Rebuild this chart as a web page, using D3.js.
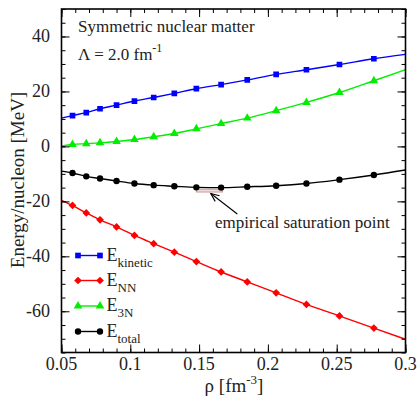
<!DOCTYPE html>
<html>
<head>
<meta charset="utf-8">
<script src="https://cdn.jsdelivr.net/npm/d3@7"></script>
<style>
  html, body { margin: 0; padding: 0; background: #fff; }
  svg { display: block; font-family: "Liberation Serif", "Times New Roman", "DejaVu Serif", serif; }
</style>
</head>
<body>
<svg id="chart" width="419" height="402"></svg>
<script>
// Density grid (fm^-3) where each energy contribution was evaluated
const rho = [0.058, 0.068, 0.078, 0.090, 0.103, 0.117, 0.132, 0.148, 0.166, 0.185, 0.206, 0.228, 0.252, 0.277];

// Energy per nucleon contributions (MeV)
const eKinetic = [11.2, 12.3, 13.7, 15.0, 16.5, 17.8, 19.3, 21.0, 22.5, 24.2, 26.2, 27.9, 29.8, 31.9];
const eNN      = [-21.5, -24.2, -26.7, -29.3, -32.4, -35.4, -38.5, -41.9, -45.7, -49.3, -53.3, -57.5, -61.7, -66.1];
const e3N      = [0.7, 1.0, 1.3, 1.8, 2.5, 3.5, 4.7, 6.4, 8.3, 10.3, 13.0, 16.0, 19.6, 23.9];
const eTotal   = [-9.7, -10.9, -11.7, -12.6, -13.5, -14.1, -14.5, -14.9, -15.0, -14.7, -14.3, -13.5, -12.1, -10.4];

// Curve values at the edges of the density range (rho = 0.05 and 0.3)
const rhoEnds = [0.05, 0.3];
const eKineticEnds = [10.3, 33.5];
const eNNEnds      = [-19.6, -70.2];
const e3NEnds      = [0.1, 27.9];
const eTotalEnds   = [-9.0, -8.6];

// Empirical saturation region
const satRho = [0.148, 0.167];
const satE   = [-15.6, -16.6];

// Axis ticks
const xTicks = [0.05, 0.1, 0.15, 0.2, 0.25, 0.3];
const xTickLabels = ["0.05", "0.1", "0.15", "0.2", "0.25", "0.3"];
const yTicks = [-60, -40, -20, 0, 20, 40];
const yTickLabels = ["-60", "-40", "-20", "0", "20", "40"];

const svg = d3.select("#chart");
const m = { left: 61.5, right: 405.5, top: 9, bottom: 352.5 };

const x = d3.scaleLinear().domain([0.05, 0.3]).range([m.left, m.right]);
const y = d3.scaleLinear().domain([-75, 50]).range([m.bottom, m.top]);

const series = [
  { name: "kinetic", vals: eKinetic, ends: eKineticEnds, color: "#0000ff", marker: "square" },
  { name: "NN",      vals: eNN,      ends: eNNEnds,      color: "#ff0000", marker: "diamond" },
  { name: "3N",      vals: e3N,      ends: e3NEnds,      color: "#00ee00", marker: "triangle" },
  { name: "total",   vals: eTotal,   ends: eTotalEnds,   color: "#000000", marker: "circle" }
];

// Diamonds are squares turned by 45 degrees
const symbols = {
  square:   d3.symbol().type(d3.symbolSquare).size(32),
  diamond:  d3.symbol().type(d3.symbolSquare).size(30),
  triangle: d3.symbol().type(d3.symbolTriangle).size(32),
  circle:   d3.symbol().type(d3.symbolCircle).size(32)
};

svg.append("defs").append("clipPath").attr("id", "plotclip")
  .append("rect").attr("x", m.left).attr("y", m.top)
  .attr("width", m.right - m.left).attr("height", m.bottom - m.top);

const plot = svg.append("g").attr("clip-path", "url(#plotclip)");

// Saturation box
plot.append("rect")
  .attr("x", x(satRho[0])).attr("y", y(satE[0]))
  .attr("width", x(satRho[1]) - x(satRho[0]))
  .attr("height", y(satE[1]) - y(satE[0]))
  .attr("fill", "#f2dcdc").attr("stroke", "#c89a9a").attr("stroke-width", 1);

const line = d3.line().x(d => x(d[0])).y(d => y(d[1])).curve(d3.curveMonotoneX);

function markerTransform(s, px, py) {
  return `translate(${px},${py})` + (s.marker === "diamond" ? " rotate(45)" : "");
}

series.forEach(s => {
  const pts = [[rhoEnds[0], s.ends[0]]]
    .concat(rho.map((r, i) => [r, s.vals[i]]))
    .concat([[rhoEnds[1], s.ends[1]]]);
  plot.append("path").datum(pts)
    .attr("d", line).attr("fill", "none")
    .attr("stroke", s.color).attr("stroke-width", 1.4);
  plot.selectAll(null).data(rho.map((r, i) => [r, s.vals[i]])).enter()
    .append("path")
    .attr("d", symbols[s.marker])
    .attr("transform", d => markerTransform(s, x(d[0]), y(d[1])))
    .attr("fill", s.color);
});

// Axes: ticks on all four sides, pointing inward
const frame = svg.append("g");
const xMinor = d3.range(0.05, 0.3001, 0.01);
const yMinor = d3.range(-75, 50.001, 5);

function styleAxis(g) {
  g.select(".domain").remove();
  g.selectAll("line").attr("stroke", "#000").attr("stroke-width", 1);
}
function addAxes(xv, yv, len) {
  frame.append("g").attr("transform", `translate(0,${m.bottom})`)
    .call(d3.axisBottom(x).tickValues(xv).tickSize(-len).tickFormat("")).call(styleAxis);
  frame.append("g").attr("transform", `translate(0,${m.top})`)
    .call(d3.axisTop(x).tickValues(xv).tickSize(-len).tickFormat("")).call(styleAxis);
  frame.append("g").attr("transform", `translate(${m.left},0)`)
    .call(d3.axisLeft(y).tickValues(yv).tickSize(-len).tickFormat("")).call(styleAxis);
  frame.append("g").attr("transform", `translate(${m.right},0)`)
    .call(d3.axisRight(y).tickValues(yv).tickSize(-len).tickFormat("")).call(styleAxis);
}
addAxes(xMinor, yMinor, 4);
addAxes(xTicks, yTicks, 8);

frame.append("rect")
  .attr("x", m.left).attr("y", m.top)
  .attr("width", m.right - m.left).attr("height", m.bottom - m.top)
  .attr("fill", "none").attr("stroke", "#000").attr("stroke-width", 1.6);

// Tick labels
svg.append("g").selectAll("text").data(xTicks).enter().append("text")
  .attr("x", d => x(d)).attr("y", 370)
  .attr("text-anchor", "middle").attr("font-size", 18).attr("fill", "#222")
  .text((d, i) => xTickLabels[i]);
svg.append("g").selectAll("text").data(yTicks).enter().append("text")
  .attr("x", 50).attr("y", d => y(d) + 6)
  .attr("text-anchor", "end").attr("font-size", 18).attr("fill", "#222")
  .text((d, i) => yTickLabels[i]);

// Axis titles
const xt = svg.append("text").attr("x", 234).attr("y", 392)
  .attr("text-anchor", "middle").attr("font-size", 19).attr("fill", "#222");
xt.append("tspan").text("ρ [fm");
xt.append("tspan").attr("font-size", 13).attr("dy", -8).text("-3");
xt.append("tspan").attr("dy", 8).text("]");

svg.append("text")
  .attr("transform", "translate(24,180) rotate(-90)")
  .attr("text-anchor", "middle").attr("font-size", 19).attr("fill", "#222")
  .text("Energy/nucleon [MeV]");

// Plot annotations
svg.append("text").attr("x", 78).attr("y", 31.5)
  .attr("font-size", 17).attr("fill", "#222").text("Symmetric nuclear matter");
const lam = svg.append("text").attr("x", 78).attr("y", 60)
  .attr("font-size", 17).attr("fill", "#222");
lam.append("tspan").text("Λ = 2.0 fm");
lam.append("tspan").attr("font-size", 12).attr("dy", -8).text("-1");

svg.append("text").attr("x", 215).attr("y", 227.5)
  .attr("font-size", 17).attr("fill", "#222").text("empirical saturation point");

// Arrow pointing to the saturation box
const tip = [x(0.1585), y(satE[1]) + 1.5];
const tail = [tip[0] + 26.5, tip[1] + 20.5];
const ang = Math.atan2(tail[1] - tip[1], tail[0] - tip[0]);
const ah = 9, aw = 0.4;
svg.append("line")
  .attr("x1", tail[0]).attr("y1", tail[1]).attr("x2", tip[0]).attr("y2", tip[1])
  .attr("stroke", "#000").attr("stroke-width", 1.1);
svg.append("path")
  .attr("d", `M${tip[0] + ah * Math.cos(ang + aw)},${tip[1] + ah * Math.sin(ang + aw)} L${tip[0]},${tip[1]} L${tip[0] + ah * Math.cos(ang - aw)},${tip[1] + ah * Math.sin(ang - aw)}`)
  .attr("fill", "none").attr("stroke", "#000").attr("stroke-width", 1.1);

// Legend
const legRows = [255.5, 280.5, 306, 331.5];
const leg = svg.append("g");
series.forEach((s, i) => {
  const ly = legRows[i];
  leg.append("line").attr("x1", 78).attr("x2", 100).attr("y1", ly).attr("y2", ly)
    .attr("stroke", s.color).attr("stroke-width", 1.4);
  [78, 100].forEach(lx => {
    leg.append("path").attr("d", symbols[s.marker])
      .attr("transform", markerTransform(s, lx, ly))
      .attr("fill", s.color);
  });
  const t = leg.append("text").attr("x", 106.5).attr("y", ly + 5)
    .attr("font-size", 18).attr("fill", "#222");
  t.append("tspan").text("E");
  t.append("tspan").attr("font-size", 13).attr("dy", 6).text(s.name);
});
</script>
</body>
</html>
